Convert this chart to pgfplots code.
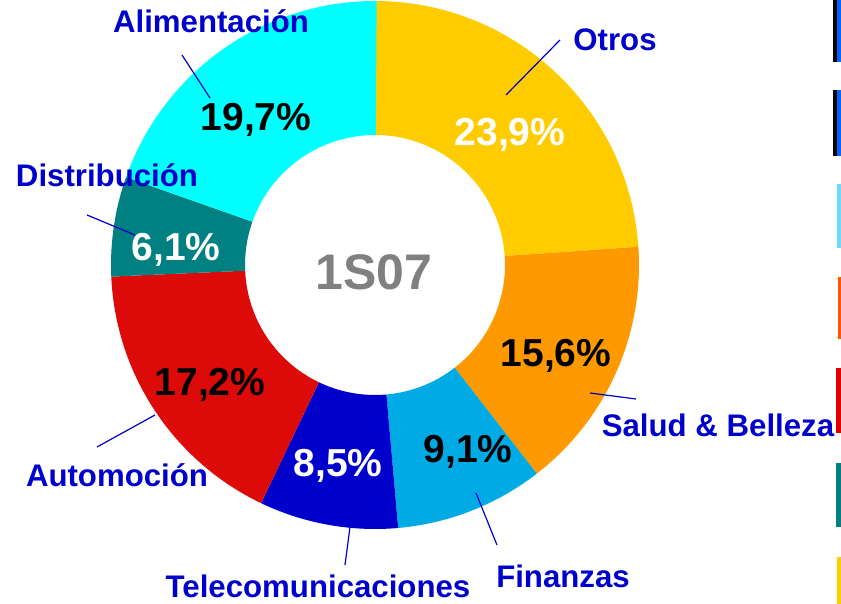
\documentclass[border=0pt]{standalone}
\usepackage{pgfplots}
\pgfplotsset{compat=1.18}
\usepackage{pgfplotstable}
\usepackage{fontspec}
\setmainfont{Liberation Sans}
\definecolor{slice0}{HTML}{FFCC00}
\definecolor{slice1}{HTML}{FF9900}
\definecolor{slice2}{HTML}{00AAE4}
\definecolor{slice3}{HTML}{0000CC}
\definecolor{slice4}{HTML}{DD0A0A}
\definecolor{slice5}{HTML}{008080}
\definecolor{slice6}{HTML}{00FFFF}
\definecolor{lblblue}{HTML}{0000CC}
\definecolor{centergray}{HTML}{808080}
\definecolor{keyblue}{HTML}{0066FF}
\definecolor{keycyan}{HTML}{66DDFF}
\definecolor{keyorange}{HTML}{FF5500}
\definecolor{keyred}{HTML}{DD0000}

\pgfplotstableread{
label value
Otros 23.9
Salud 15.6
Finanzas 9.1
Telecom 8.5
Automocion 17.2
Distribucion 6.1
Alimentacion 19.7
}\sharetable

\begin{document}
\begin{tikzpicture}[x=0.5pt,y=-0.5pt]
\useasboundingbox (0,0) rectangle (841,604);
\gdef\cumangle{90}
\pgfplotsforeachungrouped \i in {0,...,6}{%
  \pgfplotstablegetelem{\i}{value}\of\sharetable
  \pgfmathsetmacro\tmpend{\cumangle-3.6*\pgfplotsretval}%
  \expandafter\xdef\csname sa\i\endcsname{\cumangle}%
  \expandafter\xdef\csname ea\i\endcsname{\tmpend}%
  \xdef\cumangle{\tmpend}%
}
\begin{axis}[hide axis, anchor=center, at={(187.5pt,-132.5pt)}, x=0.5pt, y=0.5pt,
  xmin=-265, xmax=265, ymin=-265, ymax=265, scale only axis, clip=false]
\pgfplotsinvokeforeach{0,...,6}{
  \fill[slice#1] (axis cs:0,0) ++(\csname sa#1\endcsname:132pt)
    arc[start angle=\csname sa#1\endcsname, end angle=\csname ea#1\endcsname, radius=132pt]
    -- ++(\csname ea#1\endcsname:-67pt)
    arc[start angle=\csname ea#1\endcsname, end angle=\csname sa#1\endcsname, radius=65pt]
    -- cycle;
}
\end{axis}

% percentages
\begin{scope}[every node/.style={font=\fontsize{19.5pt}{22pt}\selectfont\bfseries, anchor=base, inner sep=0pt}]
\node[white] at (510,146) {23,9\%};
\node[black] at (556,366) {15,6\%};
\node[black] at (468,462) {9,1\%};
\node[white] at (338,476) {8,5\%};
\node[black] at (210,395) {17,2\%};
\node[white] at (176,261) {6,1\%};
\node[black] at (256,131) {19,7\%};
\end{scope}
\node[font=\fontsize{25pt}{28pt}\selectfont\bfseries, text=centergray, anchor=base, inner sep=0pt] at (374,290) {1S07};

% category labels
\begin{scope}[every node/.style={font=\fontsize{15.6pt}{18pt}\selectfont\bfseries, text=lblblue, anchor=base, inner sep=0pt}]
\node at (615,51) {Otros};
\node at (211,33) {Alimentación};
\node at (107,187) {Distribución};
\node at (718,437) {Salud \& Belleza};
\node at (563,587) {Finanzas};
\node at (318,597) {Telecomunicaciones};
\node at (117,486) {Automoción};
\end{scope}
\begin{scope}[draw=lblblue, line width=0.6pt]
\draw (506,95) -- (560,40);
\draw (182,55) -- (210,98);
\draw (87,215) -- (135,235);
\draw (590,393) -- (636,399);
\draw (476,493) -- (497,545);
\draw (350,527) -- (345,565);
\draw (155,415) -- (97,447);
\end{scope}

% cut-off legend keys at right edge
\fill[black] (833.3,0) rectangle (836.7,62);
\fill[keyblue] (836.7,0) rectangle (841,62);
\fill[black] (833.3,90) rectangle (836.7,156);
\fill[keyblue] (836.7,90) rectangle (841,156);
\fill[keycyan] (837,184) rectangle (841,248);
\fill[keyorange] (838,277) rectangle (841,339);
\fill[keyred] (836,368) rectangle (841,433);
\fill[slice5] (836,463) rectangle (841,527);
\fill[slice0] (837,557) rectangle (841,604);
\end{tikzpicture}
\end{document}
